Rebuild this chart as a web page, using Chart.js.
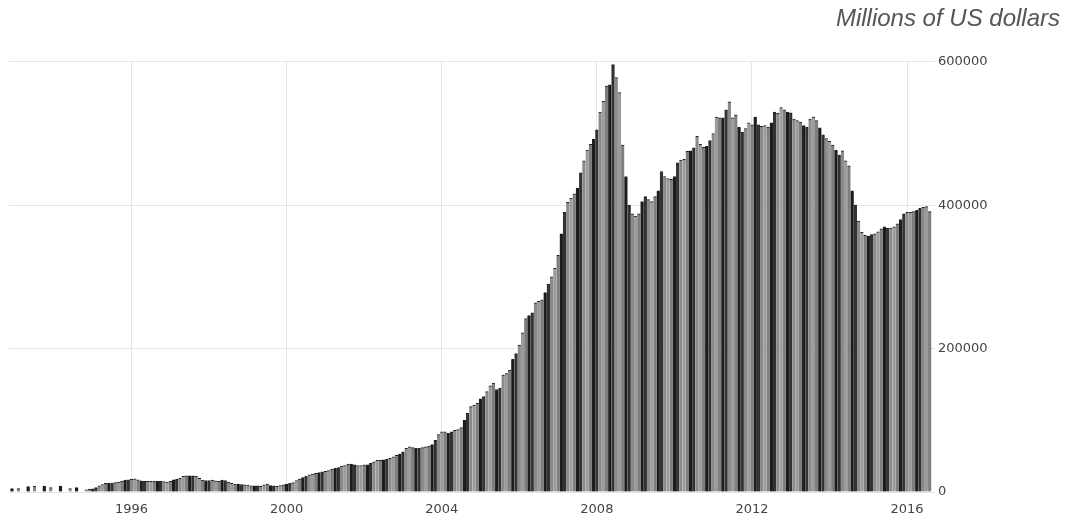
<!DOCTYPE html>
<html>
<head>
<meta charset="utf-8">
<script src="https://cdn.jsdelivr.net/npm/chart.js@4.4.1/dist/chart.umd.min.js"></script>
<style>
  html, body { margin: 0; padding: 0; background: #fff; }
  #wrap { width: 1070px; height: 518px; }
</style>
</head>
<body>
<div id="wrap"><canvas id="reservesChart"></canvas></div>
<script>
// Первый столбец - декабрь 1992, дальше помесячно до августа 2016
const startYear = 1992;
const startMonth = 11; // 0 = январь

const yearTicks = [1996, 2000, 2004, 2008, 2012, 2016];
const valueTicks = [0, 200000, 400000, 600000];

// Млн долларов США, по месяцам (null - нет данных)
const values1992 = [4600];
const values1993 = [null, 4600, null, null, 7400, null, 8400, null, null, 8400, null, 6000];
const values1994 = [null, null, 8400, null, null, 4600, null, 6000, null, null, 3000, 4000];
const values1995 = [4500, 6000, 8500, 10500, 12000, 12500, 12500, 13000, 14000, 15000, 16500, 17000];
const values1996 = [17500, 18500, 17000, 15500, 15000, 15000, 15000, 15000, 15000, 15000, 14500, 14000];
const values1997 = [15000, 17000, 17500, 19000, 22000, 22500, 22500, 22500, 22000, 19000, 16500, 16000];
const values1998 = [16000, 16500, 15500, 15000, 16500, 16000, 14000, 12000, 11000, 11000, 10500, 10000];
const values1999 = [9500, 8500, 8500, 8500, 8000, 10000, 11000, 9000, 8500, 8000, 9000, 10000];
const values2000 = [11000, 12000, 13000, 16000, 18000, 20000, 22000, 24000, 25000, 26000, 27000, 28000];
const values2001 = [29000, 30000, 32000, 33000, 34000, 36000, 37000, 39000, 39000, 38000, 37000, 37000];
const values2002 = [38000, 38000, 40000, 42000, 44000, 44000, 45000, 46000, 47000, 49000, 51000, 53000];
const values2003 = [56000, 61000, 63000, 62000, 61000, 61000, 62000, 63000, 64000, 66000, 72000, 80000];
const values2004 = [84000, 84000, 82000, 84000, 86000, 87000, 90000, 100000, 110000, 119000, 121000, 124000];
const values2005 = [130000, 133000, 140000, 148000, 152000, 143000, 145000, 163000, 165000, 170000, 185000, 193000];
const values2006 = [205000, 222000, 242000, 246000, 250000, 264000, 266000, 268000, 278000, 290000, 300000, 312000];
const values2007 = [330000, 360000, 390000, 404000, 410000, 416000, 424000, 445000, 462000, 477000, 485000, 492000];
const values2008 = [505000, 530000, 545000, 566000, 568000, 596000, 578000, 557000, 484000, 440000, 400000, 388000];
const values2009 = [385000, 388000, 405000, 412000, 408000, 405000, 412000, 420000, 447000, 440000, 437000, 436000];
const values2010 = [440000, 459000, 463000, 464000, 475000, 476000, 480000, 496000, 485000, 481000, 482000, 490000];
const values2011 = [500000, 523000, 522000, 522000, 533000, 544000, 522000, 526000, 509000, 502000, 507000, 515000];
const values2012 = [512000, 523000, 512000, 510000, 511000, 509000, 515000, 530000, 528000, 536000, 533000, 530000];
const values2013 = [529000, 520000, 518000, 516000, 511000, 509000, 520000, 523000, 518000, 508000, 498000, 493000];
const values2014 = [489000, 484000, 477000, 470000, 476000, 462000, 455000, 420000, 400000, 378000, 362000, 358000];
const values2015 = [357000, 359000, 360000, 363000, 367000, 370000, 368000, 368000, 370000, 374000, 380000, 388000];
const values2016 = [390000, 390000, 391000, 393000, 396000, 397000, 398000, 391000];

const values = [].concat(values1992, values1993, values1994, values1995, values1996, values1997,
    values1998, values1999, values2000, values2001, values2002, values2003, values2004, values2005,
    values2006, values2007, values2008, values2009, values2010, values2011, values2012, values2013,
    values2014, values2015, values2016);

// позиция месяца на оси в долях года
const months = values.map((v, i) => startYear + (startMonth + i) / 12);

// чередование оттенков, как на исходной картинке
const shades = ['#1c1c1c', '#333333', '#8a8a8a', '#9c9c9c', '#7e7e7e'];

new Chart(document.getElementById('reservesChart'), {
    type: 'bar',
    data: {
        labels: months,
        datasets: [{
            data: values,
            backgroundColor: values.map((v, i) => shades[i % shades.length]),
            borderColor: '#1e1e1e',
            borderWidth: { top: 1, left: 0, right: 0, bottom: 0 },
            barPercentage: 1,
            categoryPercentage: 1
        }]
    },
    options: {
        responsive: true,
        maintainAspectRatio: false,
        animation: false,
        layout: {
            padding: { left: 9, right: 10, top: 0, bottom: 0 }
        },
        plugins: {
            legend: { display: false },
            tooltip: { enabled: false },
            title: {
                display: true,
                text: 'Millions of US dollars',
                align: 'end',
                color: '#555',
                font: { family: '"Liberation Sans", Arial, sans-serif', size: 24, style: 'italic', weight: 'normal', lineHeight: 1.2 },
                padding: { top: 5, bottom: 28 }
            }
        },
        scales: {
            x: {
                type: 'linear',
                min: 1992.84,
                max: 2016.72,
                offset: false,
                afterBuildTicks: scale => { scale.ticks = yearTicks.map(v => ({ value: v })); },
                afterFit: scale => { scale.height = 26; },
                grid: { color: '#e6e6e6', drawTicks: false, offset: false },
                border: { display: false },
                ticks: {
                    padding: 10,
                    color: '#444',
                    font: { family: '"DejaVu Sans", sans-serif', size: 13 },
                    maxRotation: 0,
                    callback: v => String(v)
                }
            },
            y: {
                position: 'right',
                min: 0,
                max: 600000,
                afterBuildTicks: scale => { scale.ticks = valueTicks.map(v => ({ value: v })); },
                afterFit: scale => { scale.width = 125; },
                grid: { color: '#e6e6e6', drawTicks: false },
                border: { display: false },
                ticks: {
                    padding: 3,
                    color: '#444',
                    font: { family: '"DejaVu Sans", sans-serif', size: 13 },
                    callback: v => String(v)
                }
            }
        }
    }
});
</script>
</body>
</html>
